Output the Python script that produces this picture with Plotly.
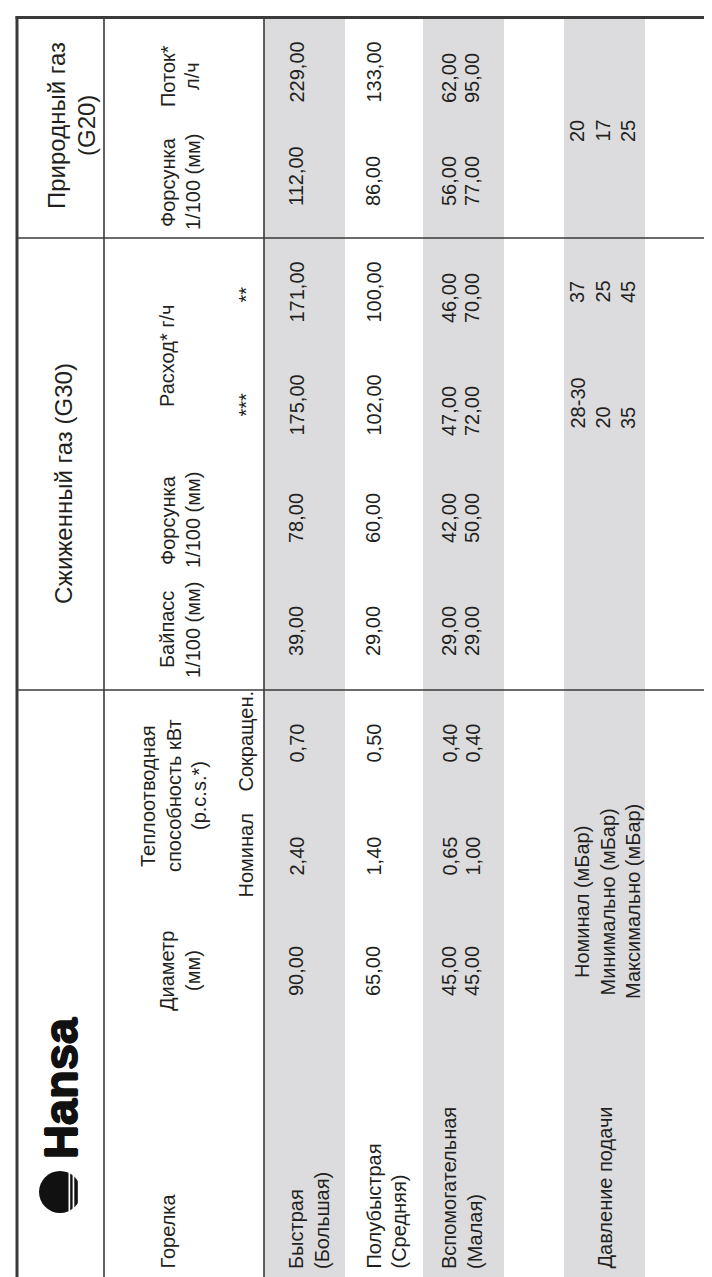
import plotly.graph_objects as go

# ---------------- data ----------------
group_headers = ["Природный газ<br>(G20)", "Сжиженный газ (G30)"]
logo_text = "Hansa"
sub_headers = {
    "burner": "Горелка",
    "diameter": "Диаметр<br>(мм)",
    "heat": "Теплоотводная<br>способность кВт<br>(p.c.s.*)",
    "heat_nom": "Номинал",
    "heat_red": "Сокращен.",
    "g30_bypass": "Байпасс<br>1/100 (мм)",
    "g30_injector": "Форсунка<br>1/100 (мм)",
    "g30_flow": "Расход* г/ч",
    "g30_3star": "***",
    "g30_2star": "**",
    "g20_injector": "Форсунка<br>1/100 (мм)",
    "g20_flow": "Поток*<br>л/ч",
}
burners = ["Быстрая<br>(Большая)", "Полубыстрая<br>(Средняя)", "Вспомогательная<br>(Малая)"]
diameter_mm = ["90,00", "65,00", "45,00<br>45,00"]
heat_nominal_kw = ["2,40", "1,40", "0,65<br>1,00"]
heat_reduced_kw = ["0,70", "0,50", "0,40<br>0,40"]
g30_bypass = ["39,00", "29,00", "29,00<br>29,00"]
g30_injector = ["78,00", "60,00", "42,00<br>50,00"]
g30_flow_3star = ["175,00", "102,00", "47,00<br>72,00"]
g30_flow_2star = ["171,00", "100,00", "46,00<br>70,00"]
g20_injector = ["112,00", "86,00", "56,00<br>77,00"]
g20_flow = ["229,00", "133,00", "62,00<br>95,00"]
pressure_label = "Давление подачи"
pressure_levels = ["Номинал (мБар)", "Минимально (мБар)", "Максимально (мБар)"]
pressure_g30_3star = ["28-30", "20", "35"]
pressure_g30_2star = ["37", "25", "45"]
pressure_g20 = ["20", "17", "25"]

# ---------------- layout (page is a table rotated 90°) ----------------
W, H = 712, 1277
FONT = "Liberation Sans, Arial, sans-serif"
INK = "#231f20"
LINE = "#3a3a3a"
SHADE = "#dcdcde"
BODY = 20
HEAD = 24

# bands across the page (table rows of the rotated table)
band_group = (9, 96)
band_sub = (96, 256)
band_rows = [(256, 337), (337, 415), (415, 496)]
band_pressure = (556, 637)
shaded = [band_rows[0], band_rows[2], band_pressure]
top = 9.5
hlines = [230, 682]

# x of the first text line in each body row, and line pitches
row_first_x = [288, 365, 441]
label_pitch = 25.5
value_pitch = 23
press_first_x = 569
press_levels_first_x = 574
press_pitch = 25.5
press_label_x = 596.5

# position of the start (bottom end) of each column's text
col_start = {
    "burner": 1263, "diameter": 990, "heat_nom": 870, "heat_red": 757,
    "g30_bypass": 650, "g30_injector": 537, "g30_3star": 430, "g30_2star": 317,
    "g20_injector": 200, "g20_flow": 97,
}
press_start = {"g30_3star": 423, "g30_2star": 297, "g20": 136}
press_levels_center = 894

fig = go.Figure()
fig.add_trace(go.Scatter(x=[0, W], y=[0, H], mode="markers",
                         marker=dict(opacity=0), hoverinfo="skip", showlegend=False))

shapes = []
for (a, b) in shaded:
    shapes.append(dict(type="rect", xref="x", yref="y", x0=a, x1=b, y0=top, y1=H,
                       fillcolor=SHADE, line=dict(width=0), layer="below"))
for yv in hlines:
    shapes.append(dict(type="line", xref="x", yref="y", x0=band_group[0], x1=W, y0=yv, y1=yv,
                       line=dict(color=LINE, width=1.6)))
for xv in (band_sub[0], band_sub[1]):
    shapes.append(dict(type="line", xref="x", yref="y", x0=xv, x1=xv, y0=top, y1=H,
                       line=dict(color=LINE, width=1.6)))
shapes.append(dict(type="line", xref="x", yref="y", x0=band_group[0], x1=band_group[0], y0=top - 1.2, y1=H,
                   line=dict(color=LINE, width=3)))
shapes.append(dict(type="line", xref="x", yref="y", x0=band_group[0] - 1.5, x1=W, y0=top, y1=top,
                   line=dict(color=LINE, width=3)))

# Hansa logo: circle with stripes
logo_cx, logo_cy, logo_r = 52, 1184, 21
shapes.append(dict(type="circle", xref="x", yref="y", x0=logo_cx - logo_r, x1=logo_cx + logo_r,
                   y0=logo_cy - logo_r, y1=logo_cy + logo_r, fillcolor="#111", line=dict(width=0)))
for (s0, s1) in [(60.5, 62.2), (64.6, 66.3), (69.8, 76)]:
    shapes.append(dict(type="rect", xref="x", yref="y", x0=s0, x1=s1,
                       y0=logo_cy - logo_r - 1, y1=logo_cy + logo_r + 1,
                       fillcolor="white", line=dict(width=0)))

ann = []


def one(text, x, y, yanchor="middle", size=BODY, color=INK, bold=False, shadow=None):
    if bold:
        text = "<b>" + text + "</b>"
    font = dict(family=FONT, size=size, color=color)
    if shadow:
        font["shadow"] = shadow
    ann.append(dict(text=text, x=x, y=y, xref="x", yref="y", showarrow=False, textangle=-90,
                    xanchor="center", yanchor=yanchor, font=font))


def lines(text, xs, y, yanchor="middle", size=BODY):
    """Place each line of a multi-line cell at its own x (rotated text)."""
    parts = text.split("<br>") if isinstance(text, str) else list(text)
    for part, x in zip(parts, xs):
        one(part, x, y, yanchor=yanchor, size=size)


def stack(first, pitch, n):
    return [first + i * pitch for i in range(n)]


# group headers
lines(group_headers[0], [48, 78], 118, size=HEAD)
lines(group_headers[1], [55], 476, size=HEAD)
one(logo_text, 52, 1080, size=47, bold=True, color="#111",
    shadow="0.9px 0 0 #111, -0.9px 0 0 #111, 0 0.9px 0 #111, 0 -0.9px 0 #111")

# sub headers
lines(sub_headers["burner"], [159], col_start["burner"], yanchor="bottom")
lines(sub_headers["diameter"], [159, 185], 963)
lines(sub_headers["heat"], [140, 166, 191], 788)
lines(sub_headers["heat_nom"], [237.5], 892, yanchor="bottom")
lines(sub_headers["heat_red"], [237.5], 733)
lines(sub_headers["g30_bypass"], [159, 185], 622)
lines(sub_headers["g30_injector"], [160, 185], 512)
lines(sub_headers["g30_flow"], [159], 348)
lines(sub_headers["g30_3star"], [237.5], 397)
lines(sub_headers["g30_2star"], [237.5], 287)
lines(sub_headers["g20_injector"], [160, 185], 174)
lines(sub_headers["g20_flow"], [160, 184], 68)

# body rows
for fx, v in zip(row_first_x, burners):
    lines(v, stack(fx, label_pitch, 2), col_start["burner"], yanchor="bottom")
columns = [
    ("diameter", diameter_mm), ("heat_nom", heat_nominal_kw),
    ("heat_red", heat_reduced_kw), ("g30_bypass", g30_bypass), ("g30_injector", g30_injector),
    ("g30_3star", g30_flow_3star), ("g30_2star", g30_flow_2star),
    ("g20_injector", g20_injector), ("g20_flow", g20_flow),
]
for key, values in columns:
    for fx, v in zip(row_first_x, values):
        lines(v, stack(fx, value_pitch, 2), col_start[key], yanchor="bottom")

# pressure row
lines(pressure_label, [press_label_x], col_start["burner"], yanchor="bottom")
lines(pressure_levels, stack(press_levels_first_x, press_pitch, 3), press_levels_center)
lines(pressure_g30_3star, stack(press_first_x, press_pitch, 3), press_start["g30_3star"], yanchor="bottom")
lines(pressure_g30_2star, stack(press_first_x, press_pitch, 3), press_start["g30_2star"], yanchor="bottom")
lines(pressure_g20, stack(press_first_x, press_pitch, 3), press_start["g20"], yanchor="bottom")

fig.update_layout(
    width=W, height=H, margin=dict(l=0, r=0, t=0, b=0),
    paper_bgcolor="white", plot_bgcolor="white",
    xaxis=dict(range=[0, W], visible=False, fixedrange=True),
    yaxis=dict(range=[H, 0], visible=False, fixedrange=True),
    shapes=shapes, annotations=ann, showlegend=False, hovermode=False,
)
fig.write_html("out.html", config={"displayModeBar": False})
